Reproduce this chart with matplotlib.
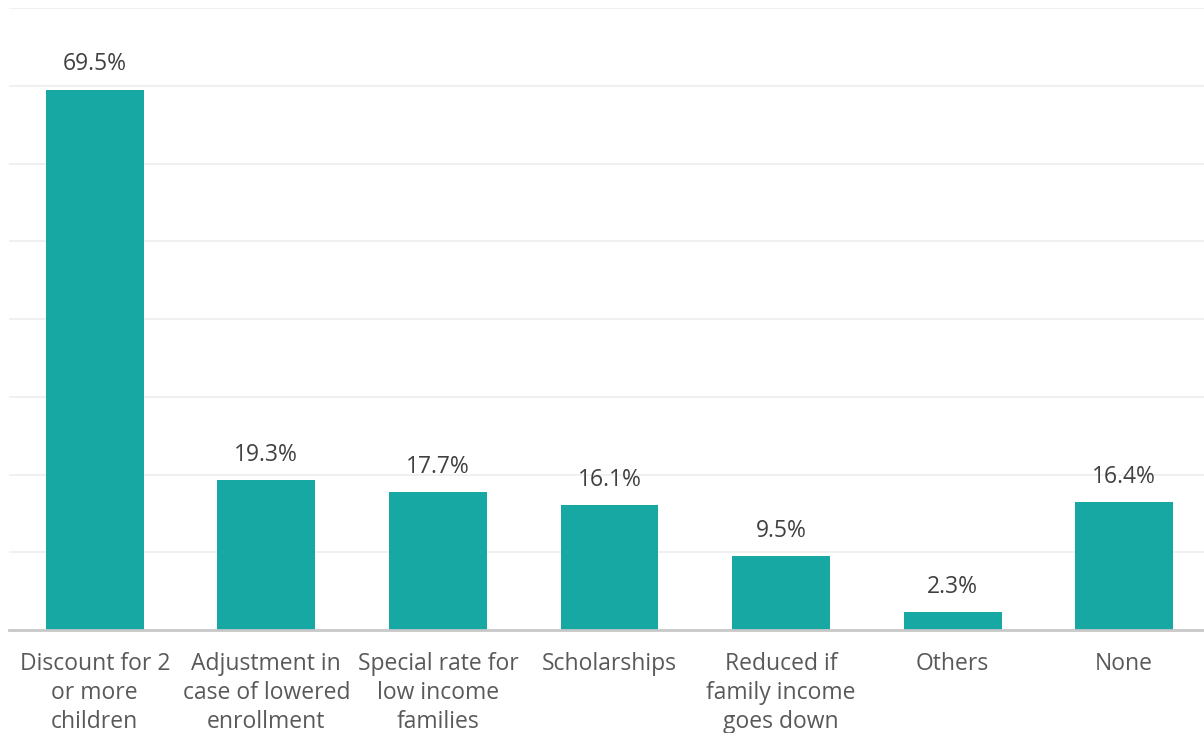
import matplotlib.pyplot as plt

categories = ['Discount for 2\nor more\nchildren', 'Adjustment in\ncase of lowered\nenrollment',
              'Special rate for\nlow income\nfamilies', 'Scholarships',
              'Reduced if\nfamily income\ngoes down', 'Others', 'None']
values = [69.5, 19.3, 17.7, 16.1, 9.5, 2.3, 16.4]

plt.rcParams['font.family'] = ['Open Sans', 'DejaVu Sans']

fig = plt.figure(figsize=(12.04, 7.33), dpi=100)
ax = fig.add_axes([9 / 1204, 103 / 733, 1201 / 1204, 622 / 733])

x = range(len(values))
bars = ax.bar(x, values, width=0.57, color='#17A8A4', zorder=3)

for xi, v in zip(x, values):
    ax.annotate(f'{v}%', (xi, v), xytext=(0, 9.5), textcoords='offset points',
                ha='center', va='bottom', fontsize=16.5, color='#404040')

ax.set_xlim(-0.5, 6.5)
ax.set_ylim(0, 80)
ax.set_yticks(range(0, 81, 10))
ax.yaxis.grid(True, color='#EFEFEF', linewidth=1.3, zorder=0)
ax.tick_params(axis='y', left=False, labelleft=False)
ax.tick_params(axis='x', bottom=False, pad=12)
ax.set_xticks(list(x))
ax.set_xticklabels(categories, fontsize=16.5, color='#595959', linespacing=1.3, va='top')

for side in ['top', 'right', 'left']:
    ax.spines[side].set_visible(False)
ax.spines['bottom'].set_color('#C8C8C8')
ax.spines['bottom'].set_linewidth(2)
ax.spines['bottom'].set_zorder(4)

fig.savefig('out.png', dpi=100)
